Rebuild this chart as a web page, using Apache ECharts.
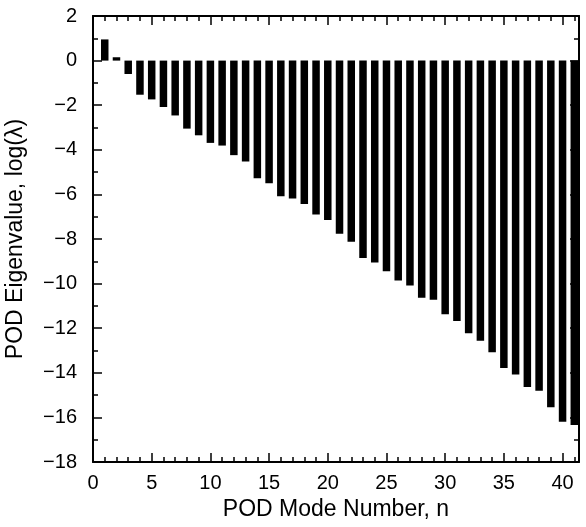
<!DOCTYPE html>
<html>
<head>
<meta charset="utf-8">
<script src="https://cdn.jsdelivr.net/npm/echarts@6/dist/echarts.min.js"></script>
<style>
  html, body { margin: 0; padding: 0; background: #fff; }
  #chart { width: 586px; height: 527px; }
</style>
</head>
<body>
<div id="chart"></div>
<script>
// POD mode numbers and log eigenvalues
const modes = [1, 2, 3, 4, 5, 6, 7, 8, 9, 10,
  11, 12, 13, 14, 15, 16, 17, 18, 19, 20,
  21, 22, 23, 24, 25, 26, 27, 28, 29, 30,
  31, 32, 33, 34, 35, 36, 37, 38, 39, 40, 41]
const logEig = [0.95, 0.15, -0.6, -1.53, -1.74, -2.08, -2.46, -3.05, -3.35, -3.69,
  -3.81, -4.24, -4.52, -5.28, -5.5, -6.08, -6.18, -6.43, -6.9, -7.15,
  -7.76, -8.12, -8.85, -9.05, -9.45, -9.86, -10.08, -10.64, -10.72, -11.38,
  -11.68, -12.23, -12.56, -13.08, -13.78, -14.08, -14.64, -14.8, -15.54, -16.2, -16.34]

const font = 'Liberation Sans, Arial, Helvetica, sans-serif'
const black = '#000'

function xAx(position, interval, tickLen, withLabels, withLine) {
  return {
    type: 'value',
    position: position,
    min: 0,
    max: 41.4,
    interval: interval,
    axisLine: { show: withLine, onZero: false, lineStyle: { color: black, width: 2 } },
    axisTick: { show: true, inside: true, length: tickLen, lineStyle: { color: black, width: 1.5 } },
    axisLabel: {
      show: withLabels,
      margin: 11,
      color: black,
      fontFamily: font,
      fontSize: 20,
      formatter: v => (v % 5 === 0 ? String(v) : '')
    },
    splitLine: { show: false }
  }
}

function yAx(position, withLabels) {
  return {
    type: 'value',
    position: position,
    min: -18,
    max: 2,
    interval: 2,
    axisLine: { show: true, onZero: false, lineStyle: { color: black, width: 2 } },
    axisTick: { show: true, inside: true, length: 9, lineStyle: { color: black, width: 1.5 } },
    minorTick: { show: true, splitNumber: 2, length: 5, lineStyle: { color: black, width: 1.5 } },
    axisLabel: {
      show: withLabels,
      margin: 16,
      color: black,
      fontFamily: font,
      fontSize: 20,
      formatter: v => String(v).replace('-', '\u2212')
    },
    splitLine: { show: false }
  }
}

const xMain = xAx('bottom', 5, 9, true, true)
xMain.name = 'POD Mode Number, n'
xMain.nameLocation = 'middle'
xMain.nameGap = 28
xMain.nameTextStyle = { color: black, fontFamily: font, fontSize: 23 }

const yMain = yAx('left', true)
yMain.name = 'POD Eigenvalue, log(\u03bb)'
yMain.nameLocation = 'middle'
yMain.nameGap = 66
yMain.nameTextStyle = { color: black, fontFamily: font, fontSize: 23 }

const option = {
  animation: false,
  backgroundColor: '#fff',
  grid: { left: 93, right: 7, top: 16, bottom: 65, outerBoundsMode: 'none' },
  xAxis: [
    xMain,
    xAx('bottom', 1, 5, false, false),
    xAx('top', 5, 9, false, true),
    xAx('top', 1, 5, false, false)
  ],
  yAxis: [yMain, yAx('right', false)],
  series: [
    {
      type: 'bar',
      xAxisIndex: 0,
      yAxisIndex: 0,
      barWidth: 7.5,
      itemStyle: { color: black },
      data: modes.map((n, i) => [n, logEig[i]])
    }
  ]
}

const chart = echarts.init(document.getElementById('chart'))
chart.setOption(option)
</script>
</body>
</html>
